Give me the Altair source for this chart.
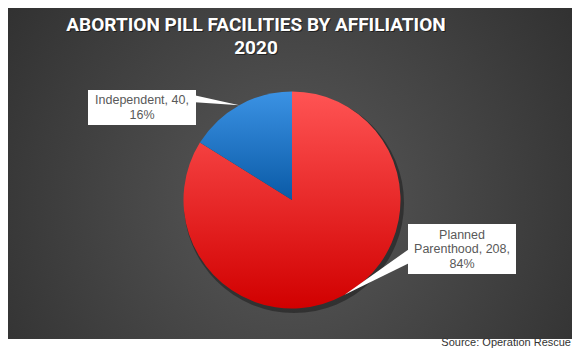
import math
import textwrap
import altair as alt
import pandas as pd

# ---- data ----
categories = ["Planned Parenthood", "Independent"]
counts = [208, 40]
percents = [84, 16]
title_lines = ["ABORTION PILL FACILITIES BY AFFILIATION", "2020"]
source_text = "Source: Operation Rescue"

# ---- layout ----
W, H = 564, 340
CX, CY, R = 284, 192, 108.5
DARK_BOTTOM = 331
LABEL_FONT = "Liberation Sans, Arial, sans-serif"
LABEL_SIZE = 12.5
LABEL_LH = 14.5
TITLE_FONT = "Roboto, sans-serif"
TITLE_LH = 23.5

df = pd.DataFrame({"cat": categories, "count": counts, "pct": percents,
                   "idx": list(range(len(categories)))})
one = pd.DataFrame({"a": [0]})

total = sum(counts)
mids = []
acc = 0
for c in counts:
    mids.append((acc + c / 2) / total * 2 * math.pi)
    acc += c

# label boxes (x0, y0, x1, y1) and where the pointer meets the box
boxes = {
    "Planned Parenthood": (400, 216, 508, 266, (400, 249), 0.08),
    "Independent": (80, 82, 188, 117, (188, 91), 0.075),
}

bg_grad = {
    "gradient": "radial", "x1": 0.5, "y1": 0.55, "x2": 0.5, "y2": 0.55,
    "r1": 0, "r2": 0.72,
    "stops": [{"offset": 0, "color": "#595959"}, {"offset": 1, "color": "#2a2a2a"}],
}
red_grad = {"gradient": "linear", "x1": 0, "y1": 0, "x2": 0, "y2": 1,
            "stops": [{"offset": 0, "color": "#ff5454"}, {"offset": 1, "color": "#d10000"}]}
blue_grad = {"gradient": "linear", "x1": 0, "y1": 0, "x2": 0, "y2": 1,
             "stops": [{"offset": 0, "color": "#3b92e4"}, {"offset": 1, "color": "#0a5aa6"}]}

layers = []
layers.append(alt.Chart(one).mark_rect(fill=bg_grad).encode(
    x=alt.value(0), x2=alt.value(W), y=alt.value(0), y2=alt.value(DARK_BOTTOM)))

# pie shadow
layers.append(alt.Chart(one).mark_arc(fill="black", opacity=0.35, radius=R + 1.5).encode(
    x=alt.value(CX + 2), y=alt.value(CY + 3), theta=alt.value(0), theta2=alt.value(2 * math.pi)))

pie = alt.Chart(df).mark_arc(radius=R).encode(
    theta=alt.Theta("count:Q", stack=True),
    order=alt.Order("idx:Q"),
    detail="cat:N",
    fill=alt.condition(alt.datum.cat == categories[0], alt.value(red_grad), alt.value(blue_grad)),
    x=alt.value(CX), y=alt.value(CY),
)
layers.append(pie)

for cat, cnt, pct, mid in zip(categories, counts, percents, mids):
    x0, y0, x1, y1, (bx, by), half = boxes[cat]
    tx = CX + R * math.sin(mid)
    ty = CY - R * math.cos(mid)
    dx, dy = bx - tx, by - ty
    ang = math.atan2(dx, -dy) % (2 * math.pi)
    dist = math.hypot(dx, dy) + 8
    layers.append(alt.Chart(one).mark_arc(fill="white", radius=dist).encode(
        x=alt.value(tx), y=alt.value(ty),
        theta=alt.value(ang - half), theta2=alt.value(ang + half)))
    layers.append(alt.Chart(one).mark_rect(fill="white").encode(
        x=alt.value(x0), x2=alt.value(x1), y=alt.value(y0), y2=alt.value(y1)))
    lines = textwrap.wrap(f"{cat}, {cnt}, {pct}%", 16)
    first = (y0 + y1) / 2 - (len(lines) - 1) / 2 * LABEL_LH
    for i, ln in enumerate(lines):
        layers.append(alt.Chart(one).mark_text(
            font=LABEL_FONT, fontSize=LABEL_SIZE, color="#595959", align="center",
            baseline="middle").encode(
            x=alt.value((x0 + x1) / 2), y=alt.value(first + i * LABEL_LH), text=alt.value(ln)))

for i, ln in enumerate(title_lines):
    for (ox, oy, col, op) in [(1, 1, "black", 0.5), (0, 0, "white", 1.0)]:
        layers.append(alt.Chart(one).mark_text(
            font=TITLE_FONT, fontSize=19, fontWeight="bold", color=col, opacity=op,
            align="center", baseline="middle").encode(
            x=alt.value(248 + ox), y=alt.value(16.5 + i * TITLE_LH + oy), text=alt.value(ln)))

layers.append(alt.Chart(one).mark_text(
    font="Liberation Sans, Arial, sans-serif", fontSize=11, color="#333333",
    align="right", baseline="middle").encode(
    x=alt.value(W - 1), y=alt.value(335), text=alt.value(source_text)))

chart = alt.layer(*layers).properties(
    width=W, height=H, padding=0, background="white",
    autosize=alt.AutoSizeParams(type="none"),
).configure_view(stroke="transparent")

chart.save("out.html", embed_options={"renderer": "svg", "actions": False})
